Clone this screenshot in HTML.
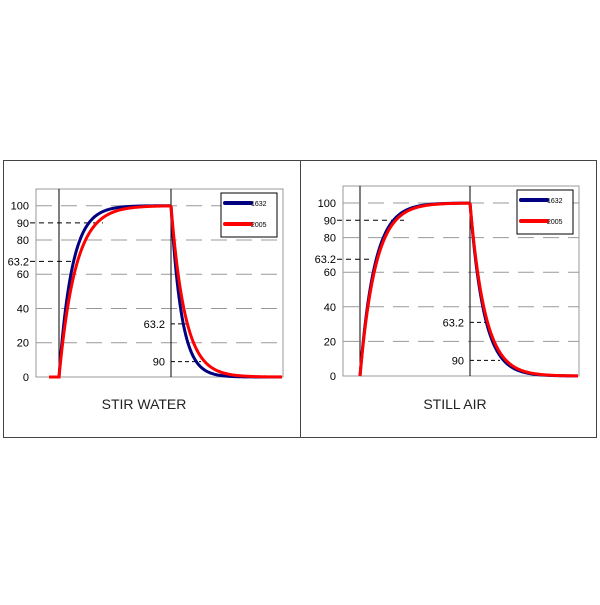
<!DOCTYPE html>
<html><head><meta charset="utf-8"><style>
body{margin:0;background:#fff;width:600px;height:600px;overflow:hidden}
svg{font-family:"Liberation Sans",sans-serif}
</style></head><body>
<svg id="s" width="600" height="600" xmlns="http://www.w3.org/2000/svg">
<rect x="3.5" y="160.5" width="593" height="277" fill="none" stroke="#444" stroke-width="1"/>
<line x1="300.5" y1="160" x2="300.5" y2="438" stroke="#444"/>
</svg>
<script>
const s=document.getElementById('s');
function add(h){s.insertAdjacentHTML('beforeend',h);}
function panel(o){
 const {L,R,T,B,y100,x1,x2,title,tx,bt,rt,bf,rf,start}=o;
 const k=(B-y100)/100, Y=v=>B-v*k;
 const y63=Y(67.5);
 let h=`<rect x="${L}" y="${T}" width="${R-L}" height="${B-T}" fill="none" stroke="#999"/>`;
 for(const v of [20,40,60,80,100]) h+=`<line x1="${L}" x2="${R}" y1="${Y(v)}" y2="${Y(v)}" stroke="#999" stroke-dasharray="16,9"/>`;
 for(const v of [0,20,40,60,80,100]) h+=`<text x="${L-7}" y="${Y(v)+4}" font-size="11" text-anchor="end">${v}</text>`;
 h+=`<text x="${L-7}" y="${Y(90)+4}" font-size="11" text-anchor="end">90</text>`;
 h+=`<text x="${L-7}" y="${y63+4}" font-size="11" text-anchor="end">63.2</text>`;
 h+=`<line x1="${L-6}" x2="${x1+44}" y1="${Y(90)}" y2="${Y(90)}" stroke="#000" stroke-dasharray="5,4"/>`;
 h+=`<line x1="${L-6}" x2="${x1+13}" y1="${y63}" y2="${y63}" stroke="#000" stroke-dasharray="5,4"/>`;
 h+=`<text x="${x2-6}" y="${Y(31)+4}" font-size="11" text-anchor="end">63.2</text>`;
 h+=`<text x="${x2-6}" y="${Y(9)+4}" font-size="11" text-anchor="end">90</text>`;
 h+=`<line x1="${x2}" x2="${x2+15}" y1="${Y(31)}" y2="${Y(31)}" stroke="#000" stroke-dasharray="4,3"/>`;
 h+=`<line x1="${x2}" x2="${x2+30}" y1="${Y(9)}" y2="${Y(9)}" stroke="#000" stroke-dasharray="4,3"/>`;
 h+=`<line x1="${x1}" x2="${x1}" y1="${T}" y2="${B}" stroke="#000"/>`;
 h+=`<line x1="${x2}" x2="${x2}" y1="${T}" y2="${B}" stroke="#000"/>`;
 function path(tr,tf,col){
  let d=`M${start},${B}L${x1},${B}`;
  for(let x=x1;x<=x2;x+=1) d+=`L${x},${Y(100*(1-Math.exp(-(x-x1)/tr))).toFixed(2)}`;
  for(let x=x2;x<=R-1;x+=1) d+=`L${x},${Y(100*Math.exp(-(x-x2)/tf)).toFixed(2)}`;
  return `<path d="${d}" fill="none" stroke="${col}" stroke-width="3"/>`;
 }
 h+=path(bt,bf,'#000080')+path(rt,rf,'#ff0000');
 const lx=R-62,ly=T+4;
 h+=`<rect x="${lx}" y="${ly}" width="56" height="44" fill="#fff" stroke="#000"/>`;
 h+=`<line x1="${lx+4}" x2="${lx+30}" y1="${ly+10}" y2="${ly+10}" stroke="#000080" stroke-width="4" stroke-linecap="round"/>`;
 h+=`<line x1="${lx+4}" x2="${lx+30}" y1="${ly+31}" y2="${ly+31}" stroke="#ff0000" stroke-width="4" stroke-linecap="round"/>`;
 h+=`<text x="${lx+30}" y="${ly+13}" font-size="7">1632</text>`;
 h+=`<text x="${lx+30}" y="${ly+34}" font-size="7">2005</text>`;
 h+=`<text x="${tx}" y="409" font-size="14" text-anchor="middle" fill="#222">${title}</text>`;
 add(h);
}
panel({L:36,R:283,T:189,B:377,y100:205.7,x1:59,x2:171,title:'STIR WATER',tx:144,bt:13,rt:16.5,bf:10.5,rf:14,start:49});
panel({L:343,R:579,T:186,B:376,y100:203,x1:360,x2:470,title:'STILL AIR',tx:455,bt:14.5,rt:15.5,bf:14,rf:15,start:360});
</script>
</body></html>
